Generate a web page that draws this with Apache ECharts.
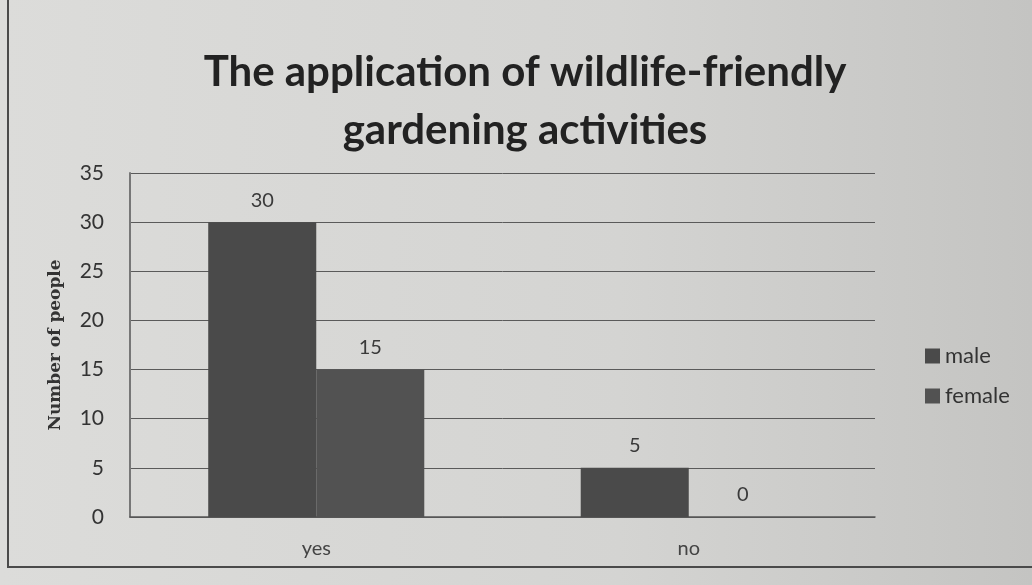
<!DOCTYPE html>
<html>
<head>
<meta charset="utf-8">
<script src="https://cdn.jsdelivr.net/npm/echarts@6/dist/echarts.min.js"></script>
<style>
  html, body { margin: 0; padding: 0; background: #d3d3d1; }
  #chart { width: 1032px; height: 585px; }
</style>
</head>
<body>
<div id="chart"></div>
<script>
// Survey answers by gender
const categories = ['yes', 'no'];
const maleValues = [30, 5];
const femaleValues = [15, 0];
const yTicks = [0, 5, 10, 15, 20, 25, 30, 35];

const chart = echarts.init(document.getElementById('chart'));

const labelStyle = {
  show: true,
  position: 'top',
  distance: 12,
  color: '#3a3a3a',
  fontFamily: 'Lato, "Open Sans", sans-serif',
  fontSize: 20
};

chart.setOption({
  backgroundColor: {
    type: 'linear', x: 0, y: 0, x2: 1, y2: 0,
    colorStops: [
      { offset: 0, color: '#dcdcda' },
      { offset: 0.6, color: '#d4d4d2' },
      { offset: 1, color: '#c4c4c2' }
    ]
  },
  title: {
    text: 'The application of wildlife-friendly\ngardening activities',
    left: 520,
    textAlign: 'center',
    top: 38,
    textStyle: {
      fontFamily: 'Lato, "Open Sans", sans-serif',
      fontWeight: 'bold',
      fontSize: 42,
      lineHeight: 58,
      color: '#222'
    }
  },
  legend: {
    orient: 'vertical',
    left: 920,
    top: 340,
    itemWidth: 15,
    itemHeight: 15,
    itemGap: 18,
    icon: 'rect',
    textStyle: {
      fontFamily: 'Lato, "Open Sans", sans-serif',
      fontSize: 22,
      color: '#333'
    },
    data: ['male', 'female']
  },
  grid: { left: 130, right: 157, top: 173, bottom: 68 },
  xAxis: {
    type: 'category',
    data: categories,
    axisLine: { show: true, lineStyle: { color: '#555', width: 1.5 } },
    axisTick: { show: false },
    axisLabel: {
      color: '#444',
      fontFamily: 'Lato, "Open Sans", sans-serif',
      fontSize: 20,
      margin: 22
    }
  },
  yAxis: {
    type: 'value',
    min: yTicks[0],
    max: yTicks[yTicks.length - 1],
    interval: 5,
    name: 'Number of people',
    nameLocation: 'middle',
    nameRotate: 90,
    nameGap: 66,
    nameTextStyle: {
      fontFamily: '"DejaVu Serif", serif',
      fontWeight: 'bold',
      fontSize: 17,
      color: '#333'
    },
    axisLine: { show: true, lineStyle: { color: '#777', width: 2 } },
    axisTick: { show: false },
    axisLabel: {
      color: '#333',
      fontFamily: 'Lato, "Open Sans", sans-serif',
      fontSize: 21,
      margin: 26
    },
    splitLine: { show: true, lineStyle: { color: '#5a5a5a', width: 1 } }
  },
  series: [
    {
      name: 'male',
      type: 'bar',
      data: maleValues,
      barGap: '0%',
      barCategoryGap: '42%',
      itemStyle: { color: '#4a4a4a' },
      label: labelStyle
    },
    {
      name: 'female',
      type: 'bar',
      data: femaleValues,
      itemStyle: { color: '#525252' },
      label: labelStyle
    }
  ],
  graphic: [
    {
      type: 'rect',
      shape: { x: 8, y: -2, width: 1030, height: 569 },
      style: { fill: null, stroke: '#4a4a4a', lineWidth: 2 },
      silent: true
    }
  ]
});
</script>
</body>
</html>
